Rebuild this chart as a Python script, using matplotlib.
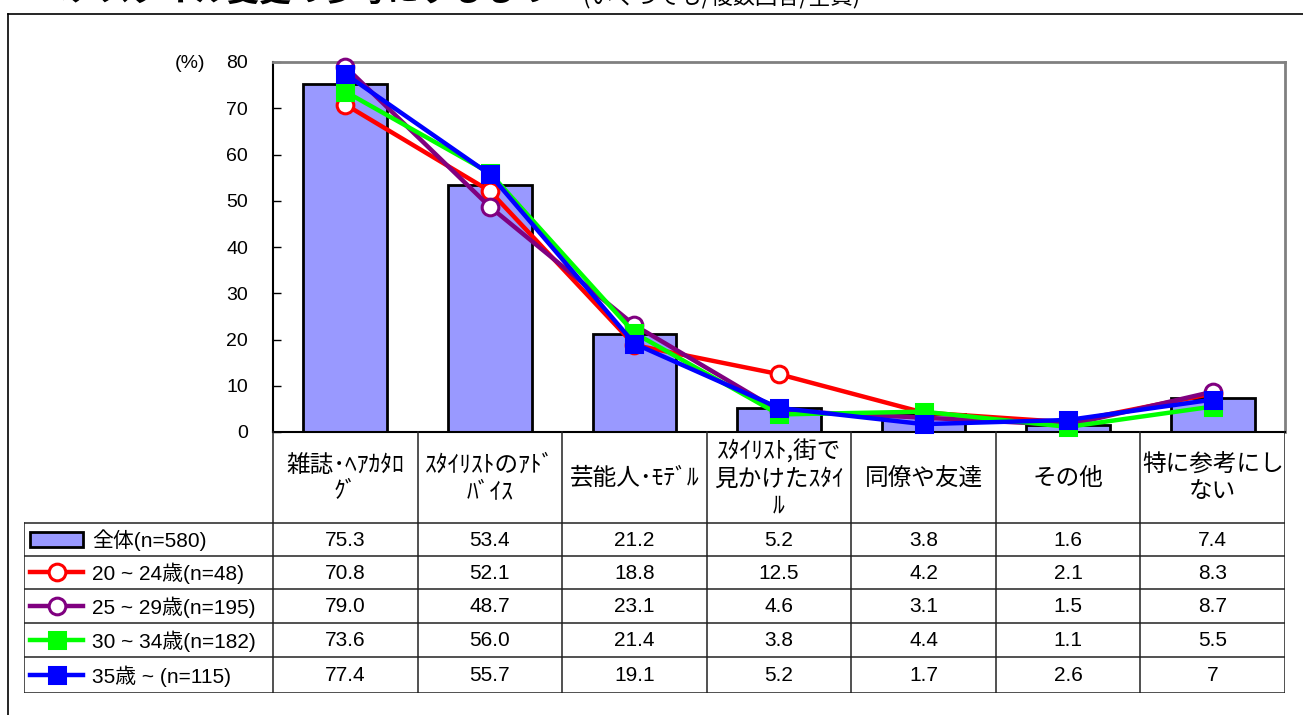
import matplotlib
matplotlib.use('Agg')
import matplotlib.pyplot as plt
from matplotlib.patches import Rectangle
from matplotlib.lines import Line2D

plt.rcParams['font.family'] = ['Liberation Sans', 'Noto Sans CJK JP', 'DejaVu Sans']

# ---------------- data ----------------
categories = ['雑誌･ﾍｱｶﾀﾛ\nｸﾞ', 'ｽﾀｲﾘｽﾄのｱﾄﾞ\nﾊﾞｲｽ', '芸能人･ﾓﾃﾞﾙ',
              'ｽﾀｲﾘｽﾄ,街で\n見かけたｽﾀｲ\nﾙ', '同僚や友達', 'その他', '特に参考にし\nない']
series_labels = ['全体(n=580)', '20 ~ 24歳(n=48)', '25 ~ 29歳(n=195)',
                 '30 ~ 34歳(n=182)', '35歳 ~ (n=115)']
total    = [75.3, 53.4, 21.2, 5.2, 3.8, 1.6, 7.4]
age20_24 = [70.8, 52.1, 18.8, 12.5, 4.2, 2.1, 8.3]
age25_29 = [79.0, 48.7, 23.1, 4.6, 3.1, 1.5, 8.7]
age30_34 = [73.6, 56.0, 21.4, 3.8, 4.4, 1.1, 5.5]
age35    = [77.4, 55.7, 19.1, 5.2, 1.7, 2.6, 7]
yticks = [0, 10, 20, 30, 40, 50, 60, 70, 80]
title_main = 'ヘアスタイル変更の参考にするもの'
title_sub = '(いくつでも/複数回答/全員)'

# ---------------- styles ----------------
W, H = 1303, 715
bar_color = '#9999FF'
line_styles = [
    dict(color='#FF0000', marker='o', mfc='white'),
    dict(color='#800080', marker='o', mfc='white'),
    dict(color='#00FF00', marker='s', mfc='#00FF00'),
    dict(color='#0000FF', marker='s', mfc='#0000FF'),
]
line_series = [age20_24, age25_29, age30_34, age35]

fig = plt.figure(figsize=(W / 100, H / 100), dpi=100)

def px_rect(x0, y0, x1, y1):
    return [x0 / W, 1 - y1 / H, (x1 - x0) / W, (y1 - y0) / H]

# outer frame (only left and top edges fall inside the picture)
fig.add_artist(Line2D([8 / W, 8 / W], [0, 1 - 14 / H], transform=fig.transFigure,
                      color='black', lw=1.2))
fig.add_artist(Line2D([8 / W, 1], [1 - 14 / H, 1 - 14 / H], transform=fig.transFigure,
                      color='black', lw=1.2))

# clipped title at the top
fig.text(36 / W, 1 - 8 / H, title_main, fontsize=23, fontweight='bold',
         family=['Noto Sans CJK JP'], va='bottom', ha='left')
fig.text(583 / W, 1 - 8 / H, title_sub, fontsize=16,
         family=['Noto Sans CJK JP'], va='bottom', ha='left')

# ---------------- main chart ----------------
PL, PR, PT, PB = 273, 1285, 62, 432
ax = fig.add_axes(px_rect(PL, PT, PR, PB))
n = len(categories)
x = list(range(n))
ax.set_xlim(-0.5, n - 0.5)
ax.set_ylim(0, 80)

ax.bar(x, total, width=0.58, color=bar_color, edgecolor='black', linewidth=2, zorder=2)
for s, st in zip(line_series, line_styles):
    ax.plot(x, s, color=st['color'], lw=3.2, marker=st['marker'],
            ms=12 if st['marker'] == 'o' else 11.5, mfc=st['mfc'], mec=st['color'],
            mew=2.2, zorder=3, clip_on=False)

ax.set_xticks([])
ax.set_yticks(yticks)
ax.tick_params(axis='y', direction='in', length=6, width=1, labelsize=14, pad=18)
for side in ['left', 'bottom']:
    ax.spines[side].set_color('black')
    ax.spines[side].set_linewidth(1.5)
for side in ['top', 'right']:
    ax.spines[side].set_color('#808080')
    ax.spines[side].set_linewidth(2)
fig.text(190 / W, 1 - 64 / H, '(%)', fontsize=14, ha='center', va='center')

# ---------------- data table ----------------
TL, TB = 24, 693
row_edges = [432, 523, 556, 589, 623, 657, 693]
col_w = (PR - PL) / n
lx = -0.5 - (PL - TL) / col_w          # left edge of legend column in data units
tax = fig.add_axes(px_rect(TL, PT, PR, TB))
tax.set_xlim(lx, n - 0.5)
tax.set_ylim(TB, PT)
tax.axis('off')
tax.patch.set_alpha(0)

lc = dict(color='#222222', lw=1.1)
for i in range(n + 1):
    tax.plot([i - 0.5, i - 0.5], [row_edges[0], row_edges[-1]], **lc)
tax.plot([lx, lx], [row_edges[1], row_edges[-1]], **lc)
for yy in row_edges[1:]:
    tax.plot([lx, n - 0.5], [yy, yy], **lc)

# header texts
for i, c in enumerate(categories):
    tax.text(i, (row_edges[0] + row_edges[1]) / 2 + 1, c, ha='center', va='center',
             fontsize=17, family=['Noto Sans CJK JP'], linespacing=1.2)

def fmt(v):
    return str(v) if isinstance(v, int) else f'{v:.1f}'

def dx(p):
    return lx + (p - TL) / col_w

all_series = [total] + line_series
for r, s in enumerate(all_series):
    yc = (row_edges[r + 1] + row_edges[r + 2]) / 2
    for i, v in enumerate(s):
        tax.text(i, yc + 1, fmt(v), ha='center', va='center', fontsize=15)
    # legend key
    if r == 0:
        tax.add_patch(Rectangle((dx(30), yc - 7.5), dx(83) - dx(30), 15,
                                facecolor=bar_color, edgecolor='black', lw=2))
    else:
        st = line_styles[r - 1]
        tax.add_line(Line2D([dx(30), dx(83)], [yc, yc], color=st['color'], lw=3.2))
        tax.add_line(Line2D([dx(56.5)], [yc], marker=st['marker'],
                            ms=12 if st['marker'] == 'o' else 11.5, mfc=st['mfc'],
                            mec=st['color'], mew=2.2, color=st['color']))
    tax.text(dx(92), yc + 1, series_labels[r], ha='left', va='center', fontsize=15)

fig.savefig('out.png', dpi=100)
